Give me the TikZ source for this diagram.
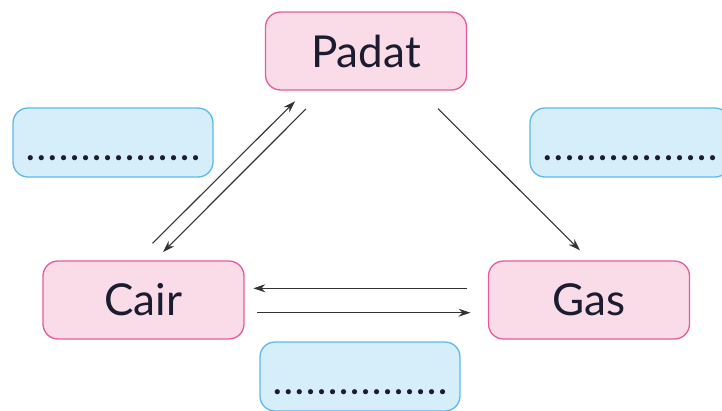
\documentclass[tikz,border=0pt]{standalone}
\usepackage{fontspec}
\setmainfont{Lato}
\usetikzlibrary{arrows.meta}
\definecolor{pinkfill}{HTML}{FADCE8}
\definecolor{pinkline}{HTML}{E85A9E}
\definecolor{bluefill}{HTML}{D6EEFA}
\definecolor{blueline}{HTML}{5CB9EC}
\definecolor{ink}{HTML}{1C1C30}
\newcommand{\titik}{\makebox[11pt]{.}}
\newcommand{\isian}{\raisebox{-18pt}[0pt][0pt]{\titik\titik\titik\titik\titik\titik\titik\titik\titik\titik\titik\titik\titik\titik\titik\titik}}
\tikzset{
  wujud/.style={draw=pinkline, fill=pinkfill, line width=1.3pt, rounded corners=15pt,
    minimum width=201pt, minimum height=78pt, text=ink, font=\fontsize{44}{46}\selectfont},
  kotak/.style={draw=blueline, fill=bluefill, line width=1.3pt, rounded corners=15pt,
    minimum width=200pt, minimum height=69pt, text=ink, font=\fontsize{34}{36}\selectfont\bfseries},
  panah/.style={-{Stealth[length=12pt,width=8pt]}, line width=1.1pt, draw=black!80}
}
\begin{document}
\begin{tikzpicture}[x=1pt,y=1pt]
  \useasboundingbox (0,0) rectangle (722,-410);
  \draw
    (366,-51) node[wujud] (padat){Padat}
    (143.5,-300) node[wujud] (cair){Cair}
    (589,-300) node[wujud] (gas){Gas}
    (113,-142.5) node[kotak] (isi1){\isian}
    (630,-142.5) node[kotak] (isi2){\isian}
    (360,-376.5) node[kotak] (isi3){\isian};
  \begin{scope}[panah]
    \draw ([shift={(9,17)}]cair.north) to ([shift={(-71,-10.7)}]padat.south);
    \draw ([shift={(-60,-18.3)}]padat.south) to ([shift={(19.5,8.3)}]cair.north);
    \draw ([shift={(72,-18)}]padat.south) to ([shift={(-9,10)}]gas.north);
    \draw ([shift={(-21,11.7)}]gas.west) to ([shift={(8.7,11.7)}]cair.east);
    \draw ([shift={(12.7,-12.7)}]cair.east) to ([shift={(-17.3,-12.7)}]gas.west);
  \end{scope}
\end{tikzpicture}
\end{document}
